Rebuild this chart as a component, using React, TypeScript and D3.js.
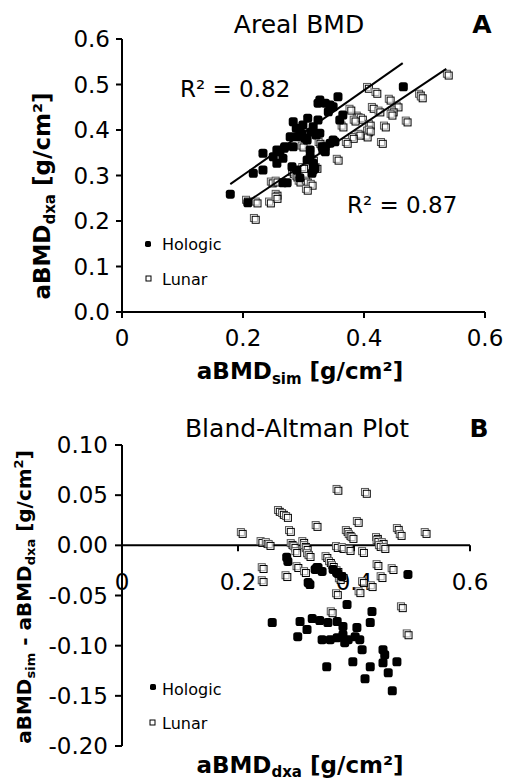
import * as d3 from 'd3';

// Panel A: aBMD_sim (x) vs aBMD_dxa (y)
const hologicSim = [0.179, 0.208, 0.217, 0.233, 0.233, 0.25, 0.256, 0.256, 0.269, 0.273, 0.261, 0.266, 0.278, 0.283, 0.283, 0.289, 0.289, 0.294, 0.294, 0.299, 0.302, 0.306, 0.306, 0.307, 0.311, 0.314, 0.316, 0.316, 0.319, 0.324, 0.327, 0.327, 0.331, 0.336, 0.336, 0.336, 0.344, 0.344, 0.349, 0.349, 0.357, 0.365, 0.465, 0.281, 0.332, 0.352, 0.316, 0.311, 0.268, 0.288, 0.321, 0.324, 0.266, 0.36, 0.297, 0.312, 0.341];
const hologicDxa = [0.259, 0.24, 0.305, 0.312, 0.349, 0.341, 0.356, 0.327, 0.363, 0.284, 0.352, 0.338, 0.385, 0.418, 0.363, 0.385, 0.312, 0.4, 0.295, 0.411, 0.382, 0.378, 0.334, 0.426, 0.341, 0.305, 0.407, 0.327, 0.316, 0.459, 0.466, 0.393, 0.363, 0.459, 0.363, 0.352, 0.455, 0.371, 0.451, 0.378, 0.473, 0.433, 0.495, 0.319, 0.356, 0.374, 0.312, 0.356, 0.36, 0.404, 0.389, 0.422, 0.284, 0.422, 0.392, 0.395, 0.44];
const lunarSim = [0.539, 0.407, 0.421, 0.443, 0.493, 0.496, 0.415, 0.426, 0.456, 0.448, 0.446, 0.39, 0.397, 0.365, 0.471, 0.41, 0.435, 0.407, 0.405, 0.43, 0.393, 0.382, 0.372, 0.327, 0.332, 0.299, 0.357, 0.322, 0.283, 0.289, 0.294, 0.306, 0.314, 0.306, 0.248, 0.256, 0.256, 0.207, 0.223, 0.245, 0.256, 0.22, 0.316, 0.3, 0.41, 0.385, 0.378];
const lunarDxa = [0.521, 0.492, 0.481, 0.466, 0.477, 0.471, 0.448, 0.44, 0.451, 0.44, 0.433, 0.429, 0.424, 0.407, 0.418, 0.411, 0.407, 0.396, 0.385, 0.371, 0.389, 0.382, 0.371, 0.371, 0.363, 0.363, 0.334, 0.316, 0.305, 0.297, 0.286, 0.286, 0.279, 0.268, 0.284, 0.286, 0.257, 0.244, 0.24, 0.24, 0.25, 0.204, 0.334, 0.316, 0.398, 0.42, 0.444];

// fitted lines: [slope, intercept, xStart, xEnd]
const hologicFit = [0.933, 0.114, 0.179, 0.464];
const lunarFit = [0.889, 0.058, 0.212, 0.536];
const r2Labels = ['R² = 0.82', 'R² = 0.87'];

// Panel B: aBMD_dxa (x) vs aBMD_sim - aBMD_dxa (y)
const baHologicDxa = [0.284, 0.286, 0.321, 0.333, 0.338, 0.345, 0.364, 0.379, 0.493, 0.259, 0.307, 0.319, 0.303, 0.328, 0.341, 0.355, 0.371, 0.381, 0.388, 0.431, 0.428, 0.345, 0.359, 0.371, 0.381, 0.39, 0.402, 0.41, 0.405, 0.384, 0.414, 0.45, 0.453, 0.474, 0.45, 0.398, 0.353, 0.428, 0.459, 0.419, 0.466, 0.336, 0.324, 0.372, 0.37];
const baHologicDiff = [-0.012, -0.016, -0.037, -0.024, -0.022, -0.026, -0.024, -0.031, -0.029, -0.077, -0.076, -0.084, -0.091, -0.073, -0.075, -0.077, -0.076, -0.081, -0.059, -0.066, -0.077, -0.094, -0.094, -0.092, -0.089, -0.094, -0.091, -0.094, -0.082, -0.097, -0.104, -0.104, -0.109, -0.116, -0.117, -0.116, -0.121, -0.121, -0.127, -0.133, -0.145, -0.022, -0.039, -0.028, -0.027];
const baLunarDxa = [0.207, 0.241, 0.25, 0.255, 0.271, 0.278, 0.285, 0.29, 0.293, 0.298, 0.301, 0.313, 0.316, 0.319, 0.321, 0.324, 0.336, 0.372, 0.421, 0.407, 0.388, 0.393, 0.398, 0.371, 0.381, 0.393, 0.416, 0.44, 0.441, 0.45, 0.445, 0.453, 0.476, 0.481, 0.524, 0.441, 0.467, 0.448, 0.431, 0.243, 0.243, 0.284, 0.303, 0.316, 0.353, 0.359, 0.364, 0.372, 0.381, 0.371, 0.41, 0.483, 0.493, 0.362, 0.376, 0.416];
const baLunarDiff = [0.012, 0.003, 0.002, 0.0, 0.034, 0.031, 0.028, 0.014, 0.001, -0.002, -0.007, 0.003, -0.001, -0.004, -0.009, -0.011, 0.019, 0.055, 0.052, 0.023, 0.014, 0.01, 0.007, -0.002, -0.003, -0.005, -0.007, 0.007, 0.004, 0.002, -0.001, -0.003, 0.016, 0.01, 0.012, -0.02, -0.024, -0.032, -0.041, -0.023, -0.036, -0.031, -0.022, -0.027, -0.012, -0.017, -0.021, -0.026, -0.032, -0.049, -0.047, -0.062, -0.089, -0.067, -0.034, -0.037];

const ticksA = [0, 0.1, 0.2, 0.3, 0.4, 0.5, 0.6];
const ticksAX = [0, 0.2, 0.4, 0.6];
const ticksBY = [0.1, 0.05, 0, -0.05, -0.1, -0.15, -0.2];
const ticksBX = [0, 0.2, 0.4, 0.6];
const legendNames = ['Hologic', 'Lunar'];

const font = 'DejaVu Sans, Verdana, sans-serif';

const Filled = ({ x, y, s = 9 }: { x: number; y: number; s?: number }) => (
  <rect x={x - s / 2} y={y - s / 2} width={s} height={s} rx={s / 3.5} fill="#000" />
);

const Open = ({ x, y, s = 7 }: { x: number; y: number; s?: number }) => (
  <g fill="#fff">
    <rect x={x - s / 2 - 1.2} y={y - s / 2 - 1.2} width={s} height={s} stroke="#555" strokeWidth={1} />
    <rect x={x - s / 2 + 0.6} y={y - s / 2 + 0.6} width={s} height={s} stroke="#000" strokeWidth={1} fillOpacity={0.5} />
  </g>
);

const Sub = ({ children, size = 15, dy = 5 }: { children: string; size?: number; dy?: number }) => (
  <tspan fontSize={size} dy={dy}>{children}</tspan>
);

export default function App() {
  // panel A scales
  const xA = d3.scaleLinear().domain([0, 0.6]).range([122, 485]);
  const yA = d3.scaleLinear().domain([0, 0.6]).range([312, 39]);
  // panel B scales
  const xB = d3.scaleLinear().domain([0, 0.6]).range([122, 470]);
  const yB = d3.scaleLinear().domain([-0.2, 0.1]).range([746, 445]);

  const fitLine = (f: number[]) =>
    d3.line<number>().x(v => xA(v)).y(v => yA(f[0] * v + f[1]))([f[2], f[3]]) || '';

  return (
    <svg width={506} height={783} style={{ position: 'absolute', left: 0, top: 0 }} fontFamily={font}>
      <rect width={506} height={783} fill="#fff" />

      {/* ---------- Panel A ---------- */}
      <text x={299} y={33} fontSize={25} textAnchor="middle">Areal BMD</text>
      <text x={482} y={33} fontSize={25} fontWeight="bold" textAnchor="middle">A</text>

      <g stroke="#000" strokeWidth={2}>
        <line x1={xA(0)} x2={xA(0)} y1={yA(0.6)} y2={yA(0)} />
        <line x1={xA(0)} x2={xA(0.6)} y1={yA(0)} y2={yA(0)} />
        {ticksA.map(t => <line key={t} x1={xA(0) - 6} x2={xA(0)} y1={yA(t)} y2={yA(t)} />)}
        {ticksAX.map(t => <line key={t} x1={xA(t)} x2={xA(t)} y1={yA(0)} y2={yA(0) + 6} />)}
      </g>
      {ticksA.map(t => (
        <text key={t} x={110} y={yA(t) + 8} fontSize={23} textAnchor="end">{t.toFixed(1)}</text>
      ))}
      {ticksAX.map(t => (
        <text key={t} x={xA(t)} y={346} fontSize={23} textAnchor="middle">{t === 0 ? '0' : String(t)}</text>
      ))}

      <text x={300} y={379} fontSize={23} fontWeight="bold" textAnchor="middle">
        aBMD<Sub>sim</Sub><tspan dy="-5"> [g/cm²]</tspan>
      </text>
      <text transform="translate(50,196) rotate(-90)" fontSize={23} fontWeight="bold" textAnchor="middle">
        aBMD<Sub>dxa</Sub><tspan dy="-5"> [g/cm²]</tspan>
      </text>

      {lunarSim.map((v, i) => <Open key={'l' + i} x={xA(v)} y={yA(lunarDxa[i])} />)}
      {hologicSim.map((v, i) => <Filled key={'h' + i} x={xA(v)} y={yA(hologicDxa[i])} />)}

      <path d={fitLine(hologicFit)} stroke="#000" strokeWidth={2} fill="none" />
      <path d={fitLine(lunarFit)} stroke="#000" strokeWidth={2} fill="none" />

      <text x={180} y={97} fontSize={23}>{r2Labels[0]}</text>
      <text x={347} y={213} fontSize={23}>{r2Labels[1]}</text>

      <Filled x={148} y={244} s={6} />
      <rect x={146} y={276} width={5} height={5} fill="#fff" stroke="#000" strokeWidth={1} />
      <text x={162} y={250} fontSize={16}>{legendNames[0]}</text>
      <text x={162} y={285} fontSize={16}>{legendNames[1]}</text>

      {/* ---------- Panel B ---------- */}
      <text x={297} y={437} fontSize={25} textAnchor="middle">Bland-Altman Plot</text>
      <text x={479} y={437} fontSize={25} fontWeight="bold" textAnchor="middle">B</text>

      <g stroke="#000" strokeWidth={2}>
        <line x1={xB(0)} x2={xB(0)} y1={yB(0.1)} y2={yB(-0.2)} />
        <line x1={xB(0)} x2={xB(0.6)} y1={yB(0)} y2={yB(0)} />
        {ticksBY.map(t => <line key={t} x1={xB(0) - 7} x2={xB(0)} y1={yB(t)} y2={yB(t)} />)}
        {ticksBX.map(t => <line key={t} x1={xB(t)} x2={xB(t)} y1={yB(0)} y2={yB(0) + 6} />)}
      </g>
      {ticksBY.map(t => (
        <text key={t} x={108} y={yB(t) + 8} fontSize={23} textAnchor="end">{t.toFixed(2)}</text>
      ))}
      {ticksBX.map(t => (
        <text key={t} x={xB(t)} y={590} fontSize={23} textAnchor="middle">{t === 0 ? '0' : String(t)}</text>
      ))}

      <text x={300} y={773} fontSize={23} fontWeight="bold" textAnchor="middle">
        aBMD<Sub dy={4}>dxa</Sub><tspan dy="-4"> [g/cm²]</tspan>
      </text>
      <text transform="translate(31,597) rotate(-90)" fontSize={20} fontWeight="bold" textAnchor="middle">
        aBMD<Sub size={13} dy={4}>sim</Sub><tspan dy="-4"> - aBMD</tspan><Sub size={13} dy={4}>dxa</Sub>
        <tspan dy="-4"> [g/cm</tspan><tspan fontSize={13} dy={-8}>2</tspan><tspan dy={8}>]</tspan>
      </text>

      {baLunarDxa.map((v, i) => <Open key={'bl' + i} x={xB(v)} y={yB(baLunarDiff[i])} />)}
      {baHologicDxa.map((v, i) => <Filled key={'bh' + i} x={xB(v)} y={yB(baHologicDiff[i])} />)}

      <Filled x={153} y={687} s={6} />
      <rect x={150} y={720} width={5} height={5} fill="#fff" stroke="#000" strokeWidth={1} />
      <text x={162} y={695} fontSize={16}>{legendNames[0]}</text>
      <text x={162} y={729} fontSize={16}>{legendNames[1]}</text>
    </svg>
  );
}
